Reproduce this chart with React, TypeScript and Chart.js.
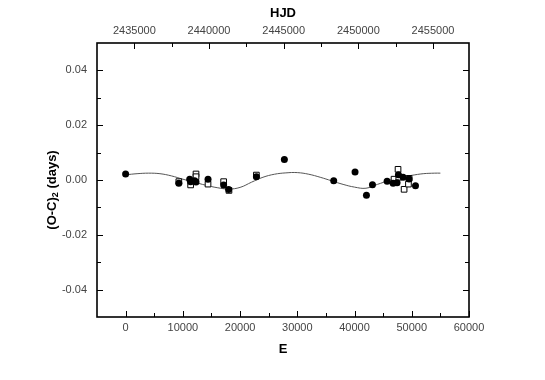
import React, { useEffect, useRef } from "react";
import { Chart, registerables } from "chart.js";

Chart.register(...registerables);

// Data
const FILLED_E = [0, 9300, 11200, 11360, 12060, 12300, 14400, 17130, 18000, 22850, 27740, 36360, 40090, 42080, 43130, 45690, 46740, 47430, 47670, 48480, 49530, 50650];
const FILLED_OC = [0.0022, -0.0012, 0.0003, -0.0006, -0.0003, -0.0007, 0.0003, -0.0018, -0.0035, 0.0012, 0.0075, -0.0003, 0.0029, -0.0056, -0.0017, -0.0005, -0.0012, -0.001, 0.0019, 0.001, 0.0004, -0.0021];

const OPEN_E = [9300, 11360, 12300, 12300, 14400, 17130, 18060, 22850, 46900, 47600, 47730, 48660, 49420, 49530];
const OPEN_OC = [-0.0006, -0.0018, 0.0022, 0.0012, -0.0015, -0.0006, -0.0038, 0.0018, 0.0003, 0.0039, 0.001, -0.0034, -0.0015, 0.0006];

const FIT_E = [0, 2000, 4000, 6000, 8000, 10000, 12000, 14000, 16000, 18000, 20000, 22000, 24000, 26000, 28000, 30000, 32000, 34000, 36000, 38000, 40000, 42000, 44000, 46000, 48000, 50000, 52000, 54000, 55000];
const FIT_OC = [0.0019, 0.0023, 0.0025, 0.0023, 0.0015, 0.0003, -0.0008, -0.0019, -0.0028, -0.0033, -0.0027, -0.0008, 0.001, 0.0021, 0.0026, 0.0027, 0.0021, 0.001, -0.0003, -0.0016, -0.0026, -0.003, -0.0016, -0.0002, 0.001, 0.0017, 0.0023, 0.0025, 0.0025];

const E_MAJOR = [0, 10000, 20000, 30000, 40000, 50000, 60000];
const E_MINOR = [5000, 15000, 25000, 35000, 45000, 55000];
const HJD_MAJOR = [2435000, 2440000, 2445000, 2450000, 2455000];
const HJD_MINOR = [2437500, 2442500, 2447500, 2452500];
const Y_MAJOR = [-0.04, -0.02, 0, 0.02, 0.04];
const Y_MINOR = [-0.03, -0.01, 0.01, 0.03];

const FONT = "'Liberation Sans', Arial, sans-serif";

const frameAndTicks = {
  id: "frameAndTicks",
  afterDatasetsDraw(chart: any) {
    const { ctx, chartArea: a, scales } = chart;
    const x = scales.x, x2 = scales.x2, y = scales.y;
    ctx.save();
    ctx.strokeStyle = "#000";
    ctx.lineWidth = 1;
    const MJ = 6, MN = 4;
    ctx.beginPath();
    const hx = (s: any, vals: number[], len: number) => {
      vals.forEach((v) => {
        const p = Math.round(s.getPixelForValue(v)) + 0.5;
        if (s === x2) {
          ctx.moveTo(p, a.top); ctx.lineTo(p, a.top + len);
        } else {
          ctx.moveTo(p, a.bottom); ctx.lineTo(p, a.bottom - len);
        }
      });
    };
    hx(x, E_MAJOR, MJ); hx(x, E_MINOR, MN);
    hx(x2, HJD_MAJOR, MJ); hx(x2, HJD_MINOR, MN);
    const vy = (vals: number[], len: number) => {
      vals.forEach((v) => {
        const p = Math.round(y.getPixelForValue(v)) + 0.5;
        ctx.moveTo(a.left, p); ctx.lineTo(a.left + len, p);
        ctx.moveTo(a.right, p); ctx.lineTo(a.right - len, p);
      });
    };
    vy(Y_MAJOR, MJ); vy(Y_MINOR, MN);
    ctx.stroke();
    ctx.lineWidth = 1.6;
    ctx.strokeRect(a.left, a.top, a.right - a.left, a.bottom - a.top);

    // y title with subscript
    ctx.translate(52, 190);
    ctx.rotate(-Math.PI / 2);
    ctx.fillStyle = "#000";
    ctx.textBaseline = "middle";
    ctx.textAlign = "left";
    const big = "bold 13px " + FONT;
    const small = "bold 9px " + FONT;
    const p1 = "(O-C)", p2 = "2", p3 = " (days)";
    ctx.font = big; const w1 = ctx.measureText(p1).width; const w3 = ctx.measureText(p3).width;
    ctx.font = small; const w2 = ctx.measureText(p2).width;
    let sx = -(w1 + w2 + w3) / 2;
    ctx.font = big; ctx.fillText(p1, sx, 0); sx += w1;
    ctx.font = small; ctx.fillText(p2, sx, 4); sx += w2;
    ctx.font = big; ctx.fillText(p3, sx, 0);
    ctx.restore();
  },
};

export default function App() {
  const ref = useRef<HTMLCanvasElement>(null);
  useEffect(() => {
    if (!ref.current) return;
    const tickFont = { family: FONT, size: 11 };
    const titleFont = { family: FONT, size: 13, weight: "bold" as const };
    const chart = new Chart(ref.current, {
      type: "scatter",
      data: {
        datasets: [
          {
            label: "filled",
            data: FILLED_E.map((e, i) => ({ x: e, y: FILLED_OC[i] })),
            pointStyle: "circle",
            pointRadius: 3.5,
            backgroundColor: "#000",
            borderColor: "#000",
            borderWidth: 0,
          },
          {
            label: "open",
            data: OPEN_E.map((e, i) => ({ x: e, y: OPEN_OC[i] })),
            pointStyle: "rect",
            pointRadius: 4,
            backgroundColor: "#fff",
            borderColor: "#000",
            borderWidth: 1,
          },
          {
            label: "fit",
            type: "line" as any,
            data: FIT_E.map((e, i) => ({ x: e, y: FIT_OC[i] })),
            showLine: true,
            pointRadius: 0,
            borderColor: "#555",
            borderWidth: 1,
            tension: 0.4,
            fill: false,
          } as any,
        ],
      },
      options: {
        animation: false,
        responsive: false,
        layout: { padding: { left: 0, right: 76, top: 0, bottom: 0 } },
        plugins: { legend: { display: false }, tooltip: { enabled: false } },
        scales: {
          x: {
            type: "linear",
            position: "bottom",
            min: -5000,
            max: 60000,
            grid: { display: false, drawTicks: false },
            border: { display: false },
            afterBuildTicks: (s: any) => { s.ticks = E_MAJOR.map((v) => ({ value: v })); },
            afterFit: (s: any) => { s.height = 63; },
            ticks: { font: tickFont, color: "#444", padding: 4, maxRotation: 0, autoSkip: false, callback: (v: any) => String(v) },
            title: { display: true, text: "E", font: titleFont, color: "#000", padding: { bottom: 23 } },
          },
          x2: {
            type: "linear",
            position: "top",
            min: 2432500,
            max: 2457410,
            grid: { display: false, drawTicks: false },
            border: { display: false },
            afterBuildTicks: (s: any) => { s.ticks = HJD_MAJOR.map((v) => ({ value: v })); },
            afterFit: (s: any) => { s.height = 43; },
            ticks: { font: tickFont, color: "#444", padding: 5, maxRotation: 0, autoSkip: false, callback: (v: any) => String(v) },
            title: { display: true, text: "HJD", font: titleFont, color: "#000", padding: { top: 6 } },
          },
          y: {
            type: "linear",
            position: "left",
            min: -0.05,
            max: 0.05,
            grid: { display: false, drawTicks: false },
            border: { display: false },
            afterBuildTicks: (s: any) => { s.ticks = Y_MAJOR.map((v) => ({ value: v })); },
            afterFit: (s: any) => { s.width = 97; },
            ticks: { font: tickFont, color: "#444", padding: 10, autoSkip: false, callback: (v: any) => Number(v).toFixed(2) },
          },
        },
      },
      plugins: [frameAndTicks],
    });
    return () => chart.destroy();
  }, []);
  return (
    <div style={{ position: "absolute", left: 0, top: 0, width: 545, height: 380, background: "#fff" }}>
      <canvas ref={ref} width={545} height={380} style={{ display: "block" }} />
    </div>
  );
}
